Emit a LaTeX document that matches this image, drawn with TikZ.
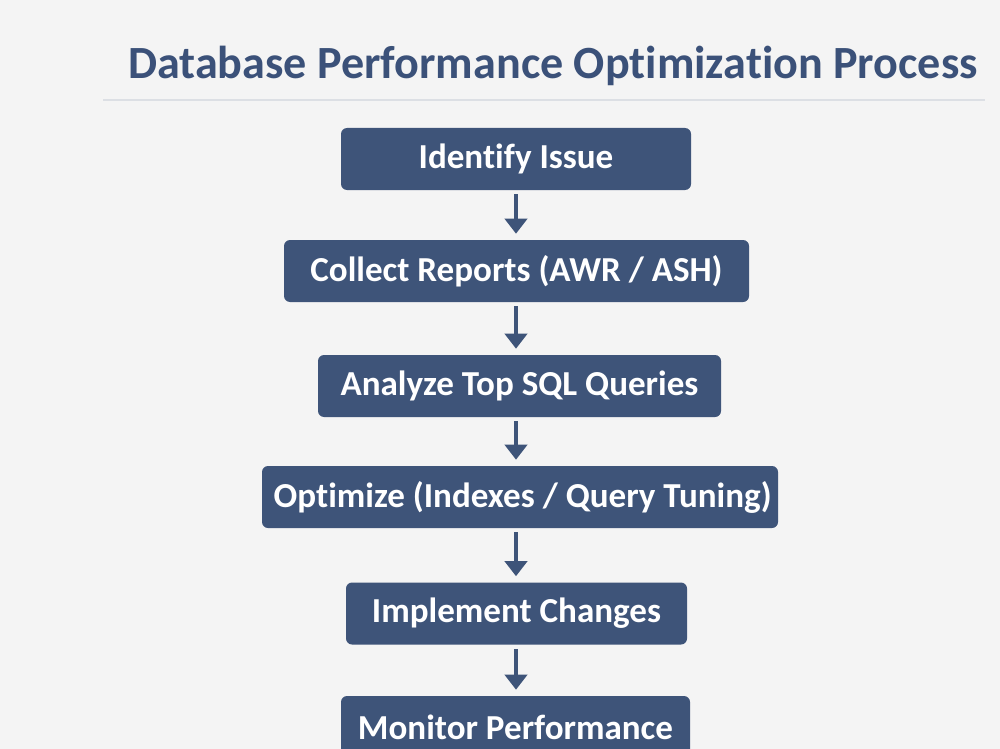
\documentclass[tikz,border=0pt]{standalone}
\usepackage{fontspec}
\setmainfont[RawFeature={-liga;-clig;-calt;-dlig}]{Carlito}
\usetikzlibrary{arrows.meta}
\definecolor{bg}{HTML}{F4F4F4}
\definecolor{boxc}{HTML}{3E5479}
\definecolor{titlec}{HTML}{3B5179}
\definecolor{rulec}{HTML}{DCDFE4}
\tikzset{
  stepbox/.style={draw=none, fill=boxc, rounded corners=6*0.75pt, text=white,
    font=\fontsize{26.3}{29}\selectfont\bfseries, minimum height=62*0.75pt, inner sep=0pt},
  arr/.style={draw=boxc, line width=4*0.75pt, -{Triangle[width=22*0.75pt,length=15*0.75pt]}}
}
\begin{document}
\begin{tikzpicture}[x=0.75pt,y=-0.75pt]
\fill[bg] (0,0) rectangle (1000,749);
\useasboundingbox (0,0) rectangle (1000,749);
\node[text=titlec, font=\fontsize{34.6}{38}\selectfont\bfseries, anchor=base] (title) at (553,79) {Database Performance Optimization Process};
\draw[rulec, line width=2*0.75pt] (103,100) coordinate (rl) -- (985,100) coordinate (rr);
\coordinate (ax) at (516,0);
\node[stepbox, minimum width=350*0.75pt] (n1) at (516,159) {Identify Issue};
\node[stepbox, minimum width=465*0.75pt] (n2) at (516.5,271) {Collect Reports (AWR / ASH)};
\node[stepbox, minimum width=403*0.75pt] (n3) at (519.5,386) {Analyze Top SQL Queries};
\node[stepbox, minimum width=516*0.75pt] (n4) at (520,497) {\hspace*{4pt}Optimize (Indexes / Query Tuning)};
\node[stepbox, minimum width=341*0.75pt] (n5) at (516.5,613.5) {Implement Changes};
\node[stepbox, minimum width=349*0.75pt] (n6) at (515.5,727) {Monitor Performance};
\foreach \a/\b in {n1/n2,n2/n3,n3/n4,n4/n5,n5/n6}{
  \draw[arr, shorten <=4*0.75pt, shorten >=6*0.75pt] (\a.south -| ax) -- (\b.north -| ax);
}
\end{tikzpicture}
\end{document}
